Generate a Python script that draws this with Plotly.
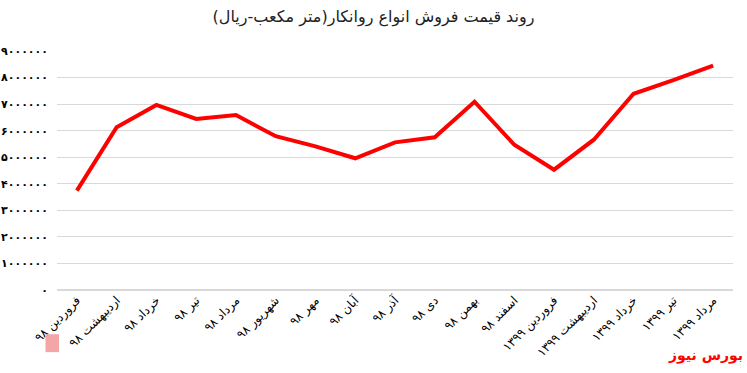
import plotly.graph_objects as go

months = ["فروردین ۹۸", "اردیبهشت ۹۸", "خرداد ۹۸", "تیر ۹۸", "مرداد ۹۸", "شهریور ۹۸",
          "مهر ۹۸", "آبان ۹۸", "آذر ۹۸", "دی ۹۸", "بهمن ۹۸", "اسفند ۹۸",
          "فروردین ۱۳۹۹", "اردیبهشت ۱۳۹۹", "خرداد ۱۳۹۹", "تیر ۱۳۹۹", "مرداد ۱۳۹۹"]
prices = [3740000, 6130000, 6970000, 6440000, 6590000, 5790000, 5410000, 4960000,
          5560000, 5750000, 7090000, 5470000, 4530000, 5660000, 7390000, 7900000, 8450000]
tick_vals = [0, 1000000, 2000000, 3000000, 4000000, 5000000, 6000000, 7000000, 8000000, 9000000]
tick_text = ["۰", "۱۰۰۰۰۰۰", "۲۰۰۰۰۰۰", "۳۰۰۰۰۰۰", "۴۰۰۰۰۰۰", "۵۰۰۰۰۰۰",
             "۶۰۰۰۰۰۰", "۷۰۰۰۰۰۰", "۸۰۰۰۰۰۰", "۹۰۰۰۰۰۰"]
title_text = "روند قیمت فروش انواع روانکار(متر مکعب-ریال)"
brand = "بورس نیوز"

fig = go.Figure(go.Scatter(
    x=months, y=prices, mode="lines",
    line=dict(color="#ff0000", width=4),
    hoverinfo="skip"))

fig.update_layout(
    width=747, height=373,
    margin=dict(l=57, r=14, t=51, b=83),
    paper_bgcolor="white", plot_bgcolor="white",
    showlegend=False,
    font=dict(family="DejaVu Sans, Noto Sans, sans-serif", color="black"),
    title=dict(text=title_text, x=0.5, xanchor="center", y=0.955, yanchor="middle",
               font=dict(size=16, color="#222222", family="DejaVu Sans, sans-serif")),
)
fig.update_xaxes(tickangle=-45, tickfont=dict(size=12, color="black"),
                 showgrid=False, showline=False, ticks="", zeroline=False,
                 automargin=False, range=[-0.5, len(months) - 0.5])
fig.update_yaxes(range=[0, 9000000], tickvals=tick_vals,
                 ticktext=["<b>" + t + "</b>" for t in tick_text],
                 tickfont=dict(size=11, color="black"), ticklabelstandoff=8,
                 automargin=False,
                 showgrid=True, gridcolor="#d9d9d9", gridwidth=1,
                 zeroline=True, zerolinecolor="#d9d9d9", showline=False, ticks="")

fig.add_annotation(text="<b>" + brand + "</b>", xref="paper", yref="paper",
                   x=1.0, y=-0.272, xanchor="right", yanchor="middle", showarrow=False,
                   xshift=12,
                   font=dict(size=14, color="#ff0000", family="DejaVu Sans, sans-serif"))
fig.add_shape(type="rect", xref="paper", yref="paper",
              x0=-0.017, x1=0.003, y0=-0.26, y1=-0.185,
              fillcolor="#f08080", line_width=0, opacity=0.7)

fig.write_html("out.html")
